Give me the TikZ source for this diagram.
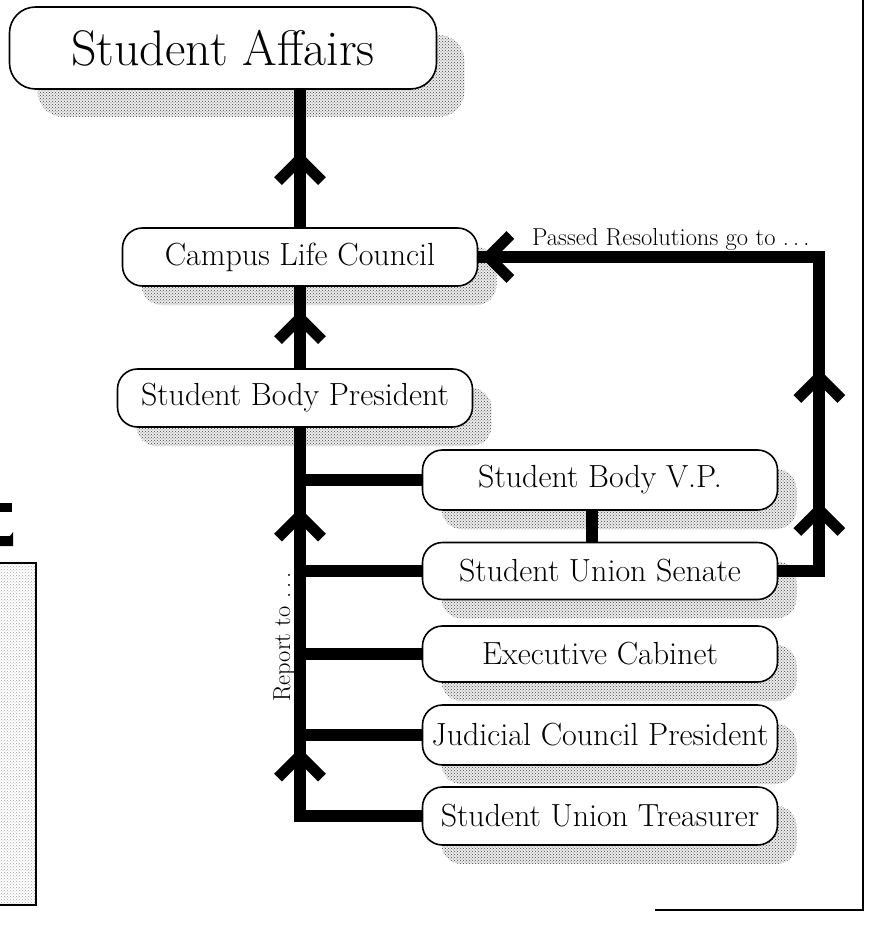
\documentclass[tikz,border=0pt]{standalone}
\usepackage{fontspec}
\usepackage{tikz}
\usetikzlibrary{calc}
\usetikzlibrary{decorations.markings}
\usetikzlibrary{shadows,patterns}

\tikzset{
  chev/.style={postaction={decorate,decoration={markings,
    mark=at position #1 with {\draw[line width=11pt,line join=miter] (-22pt,22pt) -- (0pt,0pt) -- (-22pt,-22pt);}}}},
  speckle/.style={general shadow={shadow xshift=#1,shadow yshift=-#1,fill=black!7},
    general shadow={shadow xshift=#1,shadow yshift=-#1,pattern=crosshatch dots,pattern color=black!75}}
}

\begin{document}
\begin{tikzpicture}[x=1pt,y=-1pt]
    \tikzstyle{unit}=[draw,line width=1.6pt,rounded corners=20pt,fill=white,inner sep=0pt,
        minimum width=355pt,minimum height=58pt,font=\fontsize{32}{35}\selectfont,speckle=19pt]
    \tikzstyle{topunit}=[draw,line width=1.6pt,rounded corners=26pt,fill=white,inner sep=0pt,
        font=\fontsize{50}{54}\selectfont,speckle=28pt]
    \tikzstyle{flow}=[draw,line width=12pt,-,black]
    \tikzstyle{note}=[inner sep=0pt,font=\fontsize{24.5}{27}\selectfont]
    \useasboundingbox (0,0) rectangle (871,925);

    % boxes
    \node[topunit,minimum width=427pt,minimum height=82pt] (affairs) at (223,48) {Student Affairs};
    \node[unit] (campus) at (300,257) {Campus Life Council};
    \node[unit] (sbp) at (295,398) {Student Body President};
    \node[unit,minimum height=60pt] (vp) at (600,480) {Student Body V.P.};
    \node[unit,minimum height=57pt] (senate) at (600,571) {Student Union Senate};
    \node[unit,minimum height=56pt] (cabinet) at (600,654) {Executive Cabinet};
    \node[unit,minimum height=60pt] (judicial) at (600,735) {Judicial Council President};
    \node[unit] (treasurer) at (600,816) {Student Union Treasurer};

    % connectors
    \draw[flow,chev=68pt] (campus.north) -- (campus.north |- affairs.south);
    \draw[flow,chev=50pt] (campus.south |- sbp.north) -- (campus.south);
    \draw[flow,chev=182pt,chev=422pt] (treasurer.west) -| (campus.south |- sbp.south);
    \draw[flow] (vp.west) -- (vp.west -| campus.south);
    \draw[flow] (senate.west) -- (senate.west -| campus.south);
    \draw[flow] (cabinet.west) -- (cabinet.west -| campus.south);
    \draw[flow] (judicial.west) -- (judicial.west -| campus.south);
    \draw[flow] ([xshift=-8pt]vp.south) -- ([xshift=-8pt]senate.north);
    \draw[flow,chev=102pt,chev=235pt,chev=-10pt] (senate.east) -- ++(41,0) |- (campus.east);

    % labels
    \node[note,anchor=base west] (passed) at (532,245) {Passed Resolutions go to .\,.\,.};
    \node[note,rotate=90,anchor=south] (report) at (295,637) {Report to .\,.\,.};

    % page edges
    \draw[line width=1.5pt] (863,0) -- (863,910) -- (655,910);
    \draw[line width=1.2pt,pattern=crosshatch dots,pattern color=black!35] (-3,563) rectangle (36,905);
    \fill (0,503) rectangle (12,512);
    \fill (0,536) -- (10,536) -- (13,532) -- (13,546) -- (0,546) -- cycle;
\end{tikzpicture}
\end{document}
